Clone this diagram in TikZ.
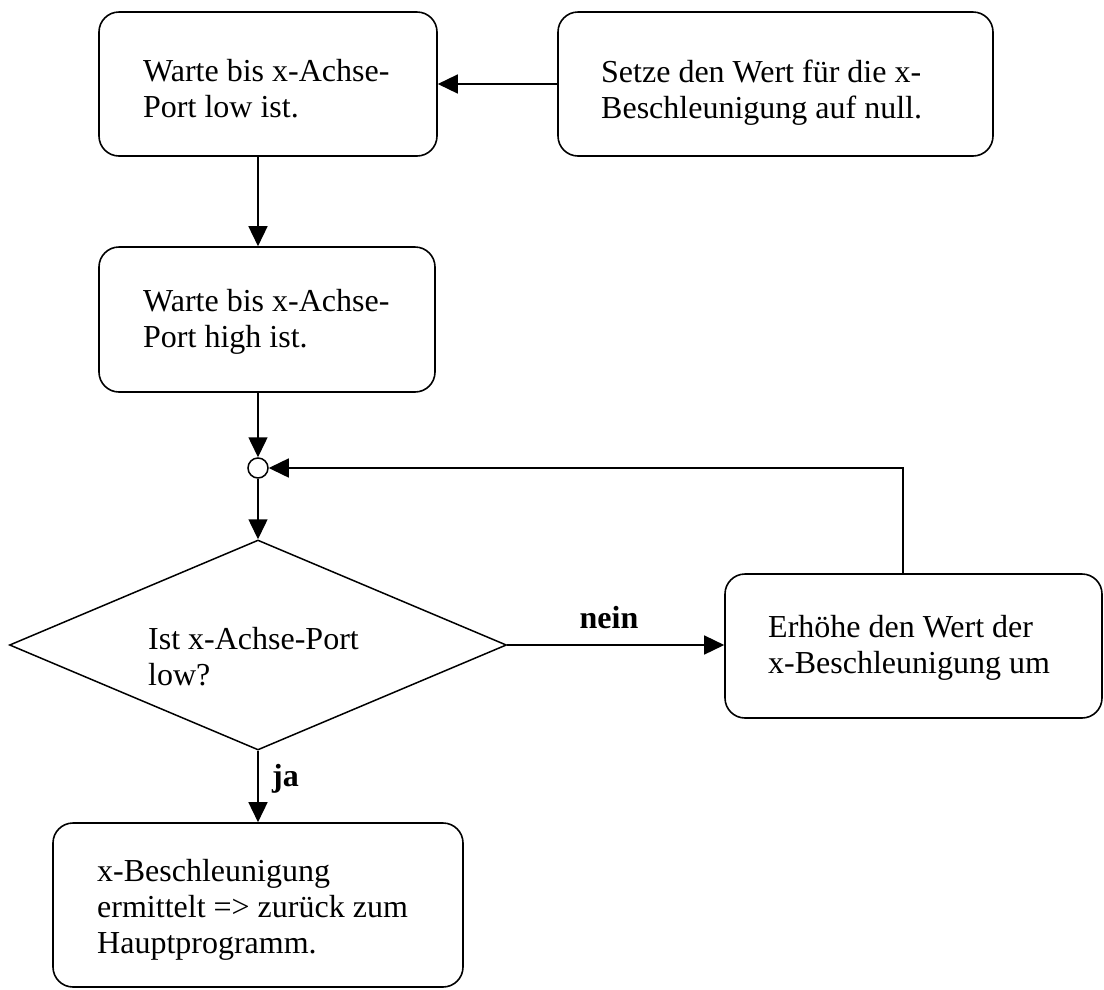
\documentclass[tikz,border=0pt]{standalone}
\usepackage{fontspec}
\setmainfont{Liberation Serif}
\usetikzlibrary{arrows.meta,shapes.geometric}
\begin{document}
\begin{tikzpicture}[x=1pt,y=-1pt,
  box/.style={draw,line width=1.6pt,rounded corners=20pt,inner sep=0pt},
  txt/.style={anchor=base west,align=left,inner sep=0pt,font=\fontsize{32}{36}\selectfont},
  conn/.style={line width=1.5pt,-{Triangle[length=20pt,width=19pt]}},
  lbl/.style={anchor=base,inner sep=0pt,font=\fontsize{32}{36}\selectfont\bfseries}]
\useasboundingbox (0,0) rectangle (1104,989);
% boxes
\node[box,minimum width=338pt,minimum height=144pt] (b1) at (268,84) {};
\node[box,minimum width=435pt,minimum height=144pt] (b2) at (775.5,84) {};
\node[box,minimum width=336pt,minimum height=145pt] (b3) at (267,319.5) {};
\node[box,minimum width=377pt,minimum height=144pt] (b4) at (913.5,646) {};
\node[box,minimum width=410pt,minimum height=164pt] (b5) at (258,905) {};
\node[draw,line width=1.5pt,circle,minimum size=20pt,inner sep=0pt] (c) at (258,468) {};
\node[draw,line width=1.5pt,diamond,minimum width=497pt,minimum height=210pt,inner sep=0pt] (d) at (258,645) {};
% texts (anchor = baseline of the last line)
\node[txt] (t1) at (143,117) {Warte bis x-Achse-\\Port low ist.};
\node[txt] (t2) at (601,118) {Setze den Wert für die x-\\Beschleunigung auf null.};
\node[txt] (t3) at (143,347) {Warte bis x-Achse-\\Port high ist.};
\node[txt] (td) at (148,685) {Ist x-Achse-Port\\low?};
\node[txt] (t4) at (768,673) {Erhöhe den Wert der\\x-Beschleunigung um};
\node[txt] (t5) at (97,953) {x-Beschleunigung\\ermittelt => zurück zum\\Hauptprogramm.};
\node[lbl] (nein) at (609,628) {nein};
\node[lbl,anchor=base west] (ja) at (272,786) {ja};
% connectors
\draw[conn] (b2.west) -- (b1.east);
\draw[conn] (b1.south -| c) -- (b3.north -| c);
\draw[conn] (b3.south -| c) -- (c.north);
\draw[conn] (c.south) -- (d.north);
\draw[conn] (d.east) -- (d.east -| b4.west);
\draw[conn] ([xshift=-10.5pt]b4.north) |- (c.east);
\draw[conn] (d.south) -- (b5.north);
\end{tikzpicture}
\end{document}
